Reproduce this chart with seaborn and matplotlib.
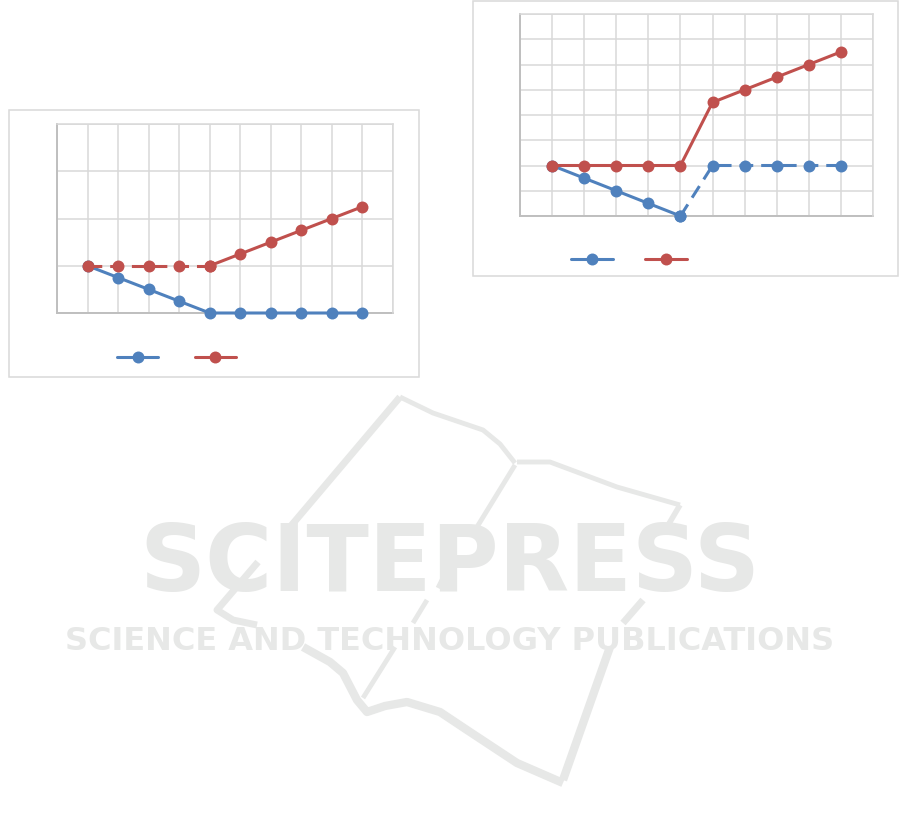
import numpy as np
import pandas as pd
import matplotlib
matplotlib.use("Agg")
import matplotlib.pyplot as plt
from matplotlib.lines import Line2D
from matplotlib.patches import Rectangle
import seaborn as sns

# data (10 steps, two series per chart)
steps = list(range(1, 11))
left_blue = [1.0, 0.75, 0.5, 0.25, 0.0, 0.0, 0.0, 0.0, 0.0, 0.0]
left_red = [1.0, 1.0, 1.0, 1.0, 1.0, 1.25, 1.5, 1.75, 2.0, 2.25]
right_blue = [1.0, 0.75, 0.5, 0.25, 0.0, 1.0, 1.0, 1.0, 1.0, 1.0]
right_red = [1.0, 1.0, 1.0, 1.0, 1.0, 2.25, 2.5, 2.75, 3.0, 3.25]

BLUE = "#4f81bd"
RED = "#c0504d"
GRID = "#d9d9d9"
AXIS = "#bfbfbf"
WM = "#e7e8e7"
LW = 2.2
MS = 8.6
DASH = (0, (4.5, 2.6))

sns.set_style("white")

W, H = 901, 824
fig = plt.figure(figsize=(W / 100, H / 100), dpi=100)


def px_axes(x0, y0, x1, y1):
    # pixel box (top-left origin) -> figure axes
    return fig.add_axes([x0 / W, 1 - y1 / H, (x1 - x0) / W, (y1 - y0) / H])


def px_box(x0, y0, x1, y1):
    fig.add_artist(Rectangle((x0 / W, 1 - y1 / H), (x1 - x0) / W, (y1 - y0) / H,
                             transform=fig.transFigure, fill=False,
                             edgecolor=GRID, lw=1.1))


def px_line(pts, lw=4):
    xs = [p[0] / W for p in pts]
    ys = [1 - p[1] / H for p in pts]
    fig.add_artist(Line2D(xs, ys, transform=fig.transFigure, color=WM, lw=lw,
                          solid_capstyle="butt", solid_joinstyle="round", zorder=0))


# watermark: book outline + publisher name
px_line([(290, 527), (400, 397)], 5)
px_line([(258, 562), (217, 610), (233, 620), (257, 625)], 5)
px_line([(400, 397), (433, 413), (483, 430), (500, 444), (515, 463)], 3.5)
px_line([(515, 465), (477, 527)], 3.5)
px_line([(443, 578), (438, 588)], 3.5)
px_line([(427, 600), (413, 623)], 3.5)
px_line([(395, 647), (363, 698)], 3.5)
px_line([(517, 462), (550, 462), (617, 487), (680, 505)], 3.5)
px_line([(680, 505), (667, 527)], 4)
px_line([(643, 600), (623, 623)], 5)
px_line([(610, 647), (563, 780)], 6)
px_line([(303, 647), (330, 662), (343, 673), (357, 700), (367, 712),
         (385, 706), (407, 702), (440, 712), (467, 730), (517, 763),
         (563, 783)], 6)

fig.text(450 / W, 1 - 565 / H, "SCITEPRESS", ha="center", va="center",
         fontsize=66, fontweight="bold", color=WM, family="DejaVu Sans", zorder=1)
fig.text(450 / W, 1 - 641 / H, "SCIENCE AND TECHNOLOGY PUBLICATIONS", ha="center",
         va="center", fontsize=23, fontweight="bold", color=WM, family="DejaVu Sans",
         zorder=1)


def draw_part(ax, xs, ys, color, ls):
    df = pd.DataFrame({"x": xs, "y": ys})
    sns.lineplot(data=df, x="x", y="y", ax=ax, color=color, lw=LW,
                 linestyle=ls, marker="o", markersize=MS,
                 markeredgewidth=0, clip_on=False, zorder=5)


def draw_series(ax, xs, ys, color, dashed_idx=None):
    # dashed_idx: (start, end) stretch drawn dashed, rest solid
    if dashed_idx is None:
        draw_part(ax, xs, ys, color, "-")
        return
    a, b = dashed_idx
    if a > 0:
        draw_part(ax, xs[:a + 1], ys[:a + 1], color, "-")
    draw_part(ax, xs[a:b + 1], ys[a:b + 1], color, DASH)
    if b < len(xs) - 1:
        draw_part(ax, xs[b:], ys[b:], color, "-")


def style_axes(ax, ystep):
    ax.set_xlim(0, 11)
    ax.set_ylim(0, 4)
    ax.set_xticks(np.arange(0, 12, 1))
    ax.set_yticks(np.arange(0, 4 + ystep / 2, ystep))
    ax.grid(True, color=GRID, lw=1.1)
    ax.set_axisbelow(True)
    ax.tick_params(length=0, labelbottom=False, labelleft=False)
    ax.set_xlabel("")
    ax.set_ylabel("")
    for side in ["top", "right"]:
        ax.spines[side].set_color(GRID)
        ax.spines[side].set_linewidth(1.1)
    for side in ["bottom", "left"]:
        ax.spines[side].set_color(AXIS)
        ax.spines[side].set_linewidth(1.4)
        ax.spines[side].set_zorder(1)


def legend(ax, cx, cy, spacing):
    handles = [Line2D([], [], color=BLUE, lw=LW, marker="o", markersize=MS,
                      markeredgewidth=0),
               Line2D([], [], color=RED, lw=LW, marker="o", markersize=MS,
                      markeredgewidth=0)]
    ax.legend(handles, ["", ""], ncol=2, loc="center", frameon=False,
              bbox_to_anchor=(cx / W, 1 - cy / H), bbox_transform=fig.transFigure,
              handlelength=3.0, handletextpad=0, columnspacing=spacing,
              fontsize=10)


# left chart
px_box(9, 110, 419, 377)
axl = px_axes(57, 124, 393, 313)
draw_series(axl, steps, left_blue, BLUE)
draw_series(axl, steps, left_red, RED, (0, 4))
style_axes(axl, 1.0)
legend(axl, 176.5, 358, 2.6)

# right chart
px_box(473, 1, 898, 276)
axr = px_axes(520, 14, 873, 216)
draw_series(axr, steps, right_blue, BLUE, (4, 9))
draw_series(axr, steps, right_red, RED)
style_axes(axr, 0.5)
legend(axr, 629, 260, 2.3)

fig.savefig("out.png", dpi=100)
